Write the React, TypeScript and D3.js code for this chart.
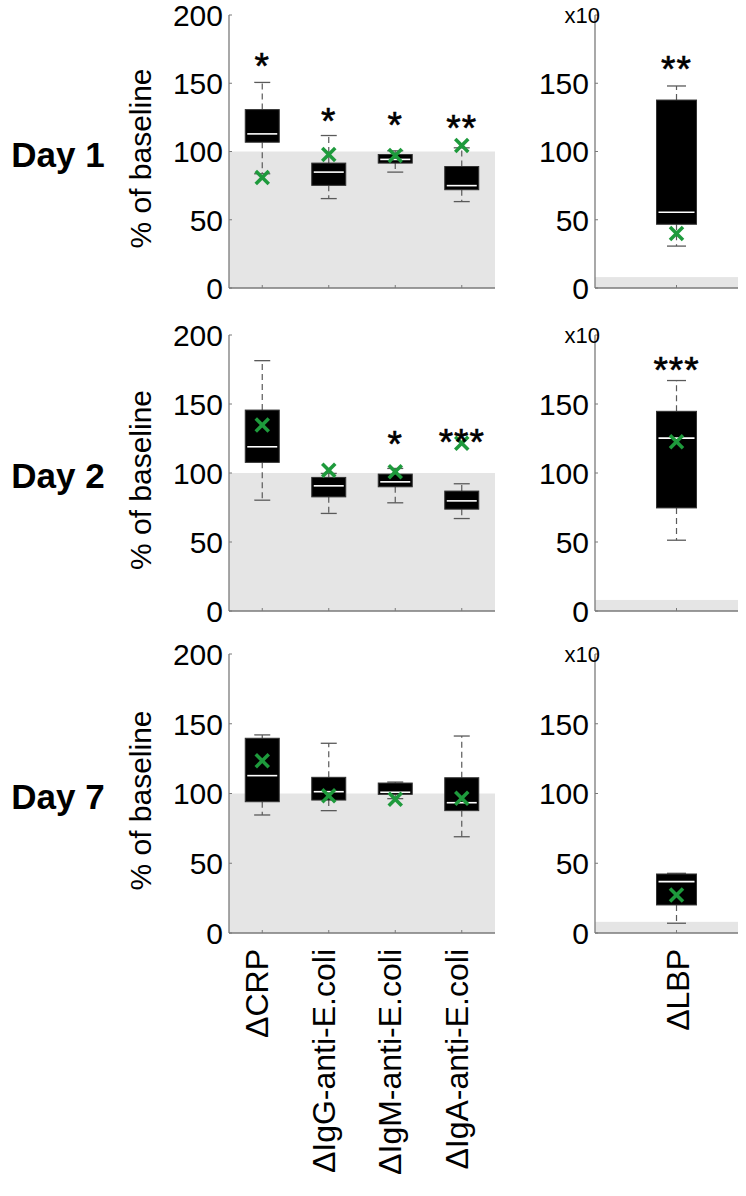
import React from 'react';
import * as d3 from 'd3';

const categories = ['ΔCRP', 'ΔIgG-anti-E.coli', 'ΔIgM-anti-E.coli', 'ΔIgA-anti-E.coli'];
const lbpCategory = ['ΔLBP'];
const dayLabels = ['Day 1', 'Day 2', 'Day 7'];
const yTicks = [0, 50, 100, 150, 200];
const leftTickLabels = ['0', '50', '100', '150', '200'];
const lbpTickLabels = ['0', '50', '100', '150', ''];
const lbpExponentLabel = 'x10';
const yAxisTitle = '% of baseline';
const baselineLeft = 100;
const baselineLbp = 8;

// stats: [lowerWhisker, q1, median, q3, upperWhisker]
const day1Stats = [
  [83.7, 106.8, 112.9, 130.7, 150.6],
  [65.5, 75.2, 84.9, 91.5, 111.7],
  [84.9, 91.5, 94.2, 97.8, 100.5],
  [63.3, 72, 75, 89, 102.7],
];
const day1Means = [81, 97.8, 97, 104.4];
const day1Stars = ['*', '*', '*', '**'];
const day1StarPos = [166, 126, 123, 121];
const day1Lbp = [30.7, 46.7, 55.5, 137.7, 148];
const day1LbpMean = 40;
const day1LbpStars = '**';
const day1LbpStarPos = 164;

const day2Stats = [
  [80.3, 107.7, 119, 145.6, 181.4],
  [70.7, 82.7, 90.7, 96.8, 99.7],
  [78.4, 90, 93.6, 99.2, 103.3],
  [67, 73.8, 79.8, 86.9, 92.2],
];
const day2Means = [134.8, 102, 100.9, 121.5];
const day2Stars = ['', '', '*', '***'];
const day2StarPos = [0, 0, 125, 126];
const day2Lbp = [51.3, 74.7, 125.3, 144.7, 167];
const day2LbpMean = 122.6;
const day2LbpStars = '***';
const day2LbpStarPos = 178;

const day7Stats = [
  [84.6, 94.1, 112.8, 139.6, 142],
  [87.7, 95.3, 101.3, 111.6, 136],
  [96.3, 99.4, 100.9, 107.5, 108.2],
  [69, 87.7, 93.4, 111.3, 141.2],
];
const day7Means = [123.5, 98.4, 95.8, 96.6];
const day7Stars = ['', '', '', ''];
const day7StarPos = [0, 0, 0, 0];
const day7Lbp = [7, 20.1, 36.8, 42.3, 42.8];
const day7LbpMean = 27.2;
const day7LbpStars = '';
const day7LbpStarPos = 0;

const panels = [
  { stats: day1Stats, means: day1Means, stars: day1Stars, starPos: day1StarPos, lbp: day1Lbp, lbpMean: day1LbpMean, lbpStars: day1LbpStars, lbpStarPos: day1LbpStarPos },
  { stats: day2Stats, means: day2Means, stars: day2Stars, starPos: day2StarPos, lbp: day2Lbp, lbpMean: day2LbpMean, lbpStars: day2LbpStars, lbpStarPos: day2LbpStarPos },
  { stats: day7Stats, means: day7Means, stars: day7Stars, starPos: day7StarPos, lbp: day7Lbp, lbpMean: day7LbpMean, lbpStars: day7LbpStars, lbpStarPos: day7LbpStarPos },
];

const W = 746;
const H = 1196;
const FONT = '"Liberation Sans", Arial, Helvetica, sans-serif';
const panelTops = [15, 335, 654];
const panelBottoms = [288, 611, 933];
const leftX0 = 229, leftX1 = 495;
const rightX0 = 595, rightX1 = 738;
const axisColor = '#7a7a7a';
const whiskerColor = '#5a5a5a';
const green = '#1e9a3c';

function BoxGlyph({ cx, stat, mean, y, bw, capW }: any) {
  const [lo, q1, med, q3, hi] = stat;
  const m = 6.5;
  const my = y(mean);
  return (
    <g>
      <line x1={cx} x2={cx} y1={y(q3)} y2={y(hi)} stroke={whiskerColor} strokeWidth={1.2} strokeDasharray="6,4" />
      <line x1={cx} x2={cx} y1={y(q1)} y2={y(lo)} stroke={whiskerColor} strokeWidth={1.2} strokeDasharray="6,4" />
      <line x1={cx - capW / 2} x2={cx + capW / 2} y1={y(hi)} y2={y(hi)} stroke={whiskerColor} strokeWidth={1.3} />
      <line x1={cx - capW / 2} x2={cx + capW / 2} y1={y(lo)} y2={y(lo)} stroke={whiskerColor} strokeWidth={1.3} />
      <rect x={cx - bw / 2} y={y(q3)} width={bw} height={y(q1) - y(q3)} fill="#000" stroke="#333" strokeWidth={1} />
      <line x1={cx - bw / 2 + 2} x2={cx + bw / 2 - 2} y1={y(med)} y2={y(med)} stroke="#fff" strokeWidth={1.6} />
      <line x1={cx - m} x2={cx + m} y1={my - m} y2={my + m} stroke={green} strokeWidth={3.5} />
      <line x1={cx - m} x2={cx + m} y1={my + m} y2={my - m} stroke={green} strokeWidth={3.5} />
    </g>
  );
}

function Stars({ cx, y, text }: any) {
  if (!text) return null;
  return (
    <text x={cx} y={y + 18} textAnchor="middle" fontFamily={FONT} fontSize={37} letterSpacing={1} fill="#000" stroke="#000" strokeWidth={0.6}>{text}</text>
  );
}

function YAxis({ x0, x1, y, labels }: any) {
  return (
    <g>
      <line x1={x0} x2={x0} y1={y(200)} y2={y(0)} stroke={axisColor} strokeWidth={1.3} />
      <line x1={x0} x2={x1} y1={y(0)} y2={y(0)} stroke={axisColor} strokeWidth={1.3} />
      {yTicks.map((t, i) => (
        <g key={t}>
          <line x1={x0} x2={x0 + 3} y1={y(t)} y2={y(t)} stroke={axisColor} strokeWidth={1} />
          {labels[i] && (
            <text x={x0 - 6} y={y(t)} dy="0.36em" textAnchor="end" fontFamily={FONT} fontSize={30} fill="#000">{labels[i]}</text>
          )}
        </g>
      ))}
    </g>
  );
}

export default function App() {
  const xBand = d3.scaleBand<string>().domain(categories).range([leftX0, leftX1]);
  const xR = d3.scaleLinear().domain([0.43, 1.43]).range([rightX0, rightX1]);
  const bwL = 34;
  const bwR = 40;
  return (
    <svg width={W} height={H} style={{ position: 'absolute', left: 0, top: 0, background: '#fff' }}>
      {panels.map((p, pi) => {
        const y = d3.scaleLinear().domain([0, 200]).range([panelBottoms[pi], panelTops[pi]]);
        const cy = (panelTops[pi] + panelBottoms[pi]) / 2;
        const lbpX = xR(1);
        return (
          <g key={pi}>
            <text x={58} y={cy + 15} textAnchor="middle" fontFamily={FONT} fontSize={35} fontWeight="bold" fill="#000">{dayLabels[pi]}</text>
            <text transform={`translate(151,${cy + 7}) rotate(-90)`} textAnchor="middle" fontFamily={FONT} fontSize={30} fill="#000">{yAxisTitle}</text>
            {/* left panel */}
            <rect x={leftX0} y={y(baselineLeft)} width={leftX1 - leftX0} height={y(0) - y(baselineLeft)} fill="#e5e5e5" />
            {categories.map((c, ci) => {
              const cx = (xBand(c) as number) + xBand.bandwidth() / 2;
              return (
                <g key={c}>
                  <line x1={cx} x2={cx} y1={y(0)} y2={y(0) - 3} stroke={axisColor} strokeWidth={1} />
                  <BoxGlyph cx={cx} stat={p.stats[ci]} mean={p.means[ci]} y={y} bw={bwL} capW={16} />
                  <Stars cx={cx} y={y(p.starPos[ci])} text={p.stars[ci]} />
                </g>
              );
            })}
            <YAxis x0={leftX0} x1={leftX1} y={y} labels={leftTickLabels} />
            {/* right panel */}
            <rect x={rightX0} y={y(baselineLbp)} width={rightX1 - rightX0} height={y(0) - y(baselineLbp)} fill="#e5e5e5" />
            <line x1={lbpX} x2={lbpX} y1={y(0)} y2={y(0) - 3} stroke={axisColor} strokeWidth={1} />
            <BoxGlyph cx={lbpX} stat={p.lbp} mean={p.lbpMean} y={y} bw={bwR} capW={19} />
            <Stars cx={lbpX} y={y(p.lbpStarPos)} text={p.lbpStars} />
            <YAxis x0={rightX0} x1={rightX1} y={y} labels={lbpTickLabels} />
            <text x={600} y={panelTops[pi] + 8} textAnchor="end" fontFamily={FONT} fontSize={22} fill="#000">{lbpExponentLabel}</text>
          </g>
        );
      })}
      {categories.map((c) => {
        const cx = (xBand(c) as number) + xBand.bandwidth() / 2;
        return (
          <text key={c} transform={`translate(${cx + 6},949) rotate(-90)`} textAnchor="end" fontFamily={FONT} fontSize={32} fill="#000">{c}</text>
        );
      })}
      {lbpCategory.map((c) => (
        <text key={c} transform={`translate(${xR(1) + 12},949) rotate(-90)`} textAnchor="end" fontFamily={FONT} fontSize={32} fill="#000">{c}</text>
      ))}
    </svg>
  );
}
